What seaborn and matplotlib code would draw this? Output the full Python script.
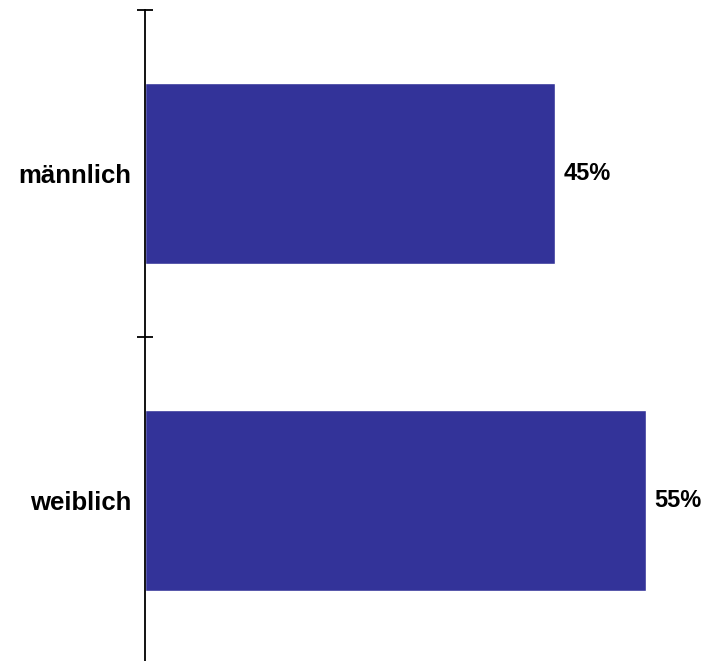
import matplotlib
matplotlib.use("Agg")
import matplotlib.pyplot as plt
import seaborn as sns
import pandas as pd

categories = ["männlich", "weiblich"]
values = [45, 55]
value_labels = ["45%", "55%"]

df = pd.DataFrame({"Geschlecht": categories, "Anteil": values})

sns.set_style("white")
plt.rcParams["font.family"] = ["Liberation Sans", "DejaVu Sans"]

fig = plt.figure(figsize=(7.11, 6.61), dpi=100)
ax = fig.add_axes([145 / 711, -3 / 661, 566 / 711, 654 / 661])

sns.barplot(data=df, x="Anteil", y="Geschlecht", orient="h", color="#333399",
            saturation=1, width=0.555, ax=ax)

for i, (v, lab) in enumerate(zip(values, value_labels)):
    ax.annotate(lab, xy=(v, i), xytext=(9, 0), textcoords="offset pixels",
                ha="left", va="center", fontsize=17, fontweight="bold", color="black")

ax.set_xlim(0, 566 / 9.1)
ax.set_ylim(1.5, -0.5)
ax.set_xlabel("")
ax.set_ylabel("")
ax.set_xticks([])
ax.set_yticks([0, 1])
ax.set_yticklabels(categories, fontsize=18.5, fontweight="bold", color="black")
ax.set_yticks([-0.5, 0.5, 1.5], minor=True)
ax.tick_params(axis="y", which="major", length=0, pad=10)
ax.tick_params(axis="y", which="minor", direction="inout", length=12, width=1.3, color="black", left=True)

for s in ["top", "right", "bottom"]:
    ax.spines[s].set_visible(False)
ax.spines["left"].set_color("black")
ax.spines["left"].set_linewidth(1.3)

fig.savefig("out.png", dpi=100)
